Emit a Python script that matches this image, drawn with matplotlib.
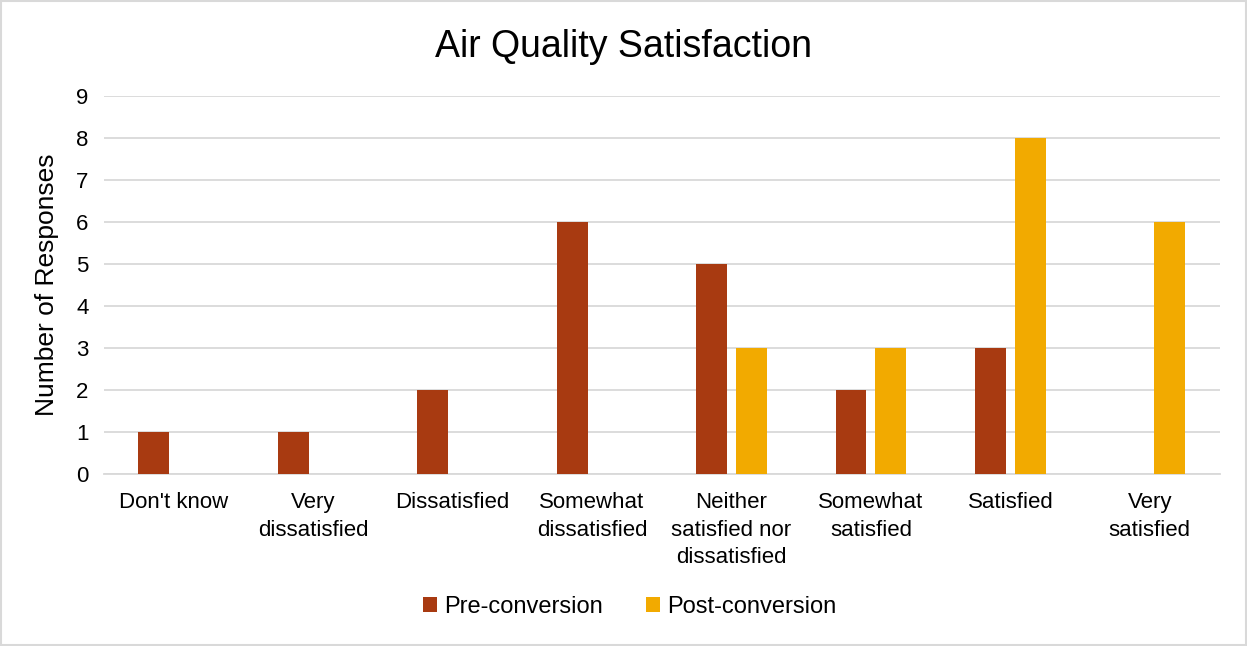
import matplotlib
matplotlib.use("Agg")
import matplotlib.pyplot as plt
import numpy as np

plt.rcParams['font.family'] = ['Liberation Sans', 'DejaVu Sans']

categories = ["Don't know", "Very\ndissatisfied", "Dissatisfied", "Somewhat\ndissatisfied",
              "Neither\nsatisfied nor\ndissatisfied", "Somewhat\nsatisfied", "Satisfied", "Very\nsatisfied"]
pre = [1, 1, 2, 6, 5, 2, 3, 0]
post = [0, 0, 0, 0, 3, 3, 8, 6]
series_names = ["Pre-conversion", "Post-conversion"]
colors = ["#A83A11", "#F2AA00"]

fig = plt.figure(figsize=(12.47, 6.46), dpi=100)
ax = fig.add_axes([0.0834, 0.266, 0.8946, 0.585])

x = np.arange(len(categories))
w = 0.222
off = 0.143
ax.bar(x - off, pre, width=w, color=colors[0], label=series_names[0], zorder=3)
ax.bar(x + off, post, width=w, color=colors[1], label=series_names[1], zorder=3)

ax.set_xlim(-0.5, len(categories) - 0.5)
ax.set_ylim(0, 9)
ax.set_yticks(range(0, 10))
ax.yaxis.grid(True, color="#D9D9D9", linewidth=1.3, zorder=0)
ax.set_axisbelow(True)
for s in ["top", "right", "left"]:
    ax.spines[s].set_visible(False)
ax.spines["bottom"].set_color("#D9D9D9")
ax.spines["bottom"].set_linewidth(1.3)
ax.tick_params(axis="both", length=0, labelsize=16, colors="black")
ax.tick_params(axis="y", pad=11)
ax.tick_params(axis="x", pad=13)
ax.set_xticks(x)
ax.set_xticklabels(categories, linespacing=1.4)
ax.set_ylabel("Number of Responses", fontsize=19)
ax.yaxis.set_label_coords(-0.040, 0.5)
fig.text(0.5, 0.927, "Air Quality Satisfaction", ha="center", va="center", fontsize=27)

leg = fig.legend(loc="center", bbox_to_anchor=(0.505, 0.06), ncol=2, frameon=False,
                 fontsize=17, handlelength=0.6, handleheight=0.6, handletextpad=0.3,
                 columnspacing=1.8)

border = plt.Rectangle((0.001, 0.001), 0.998, 0.998, transform=fig.transFigure,
                       fill=False, edgecolor="#D9D9D9", linewidth=1.5)
fig.patches.append(border)

fig.savefig("out.png", dpi=100)
